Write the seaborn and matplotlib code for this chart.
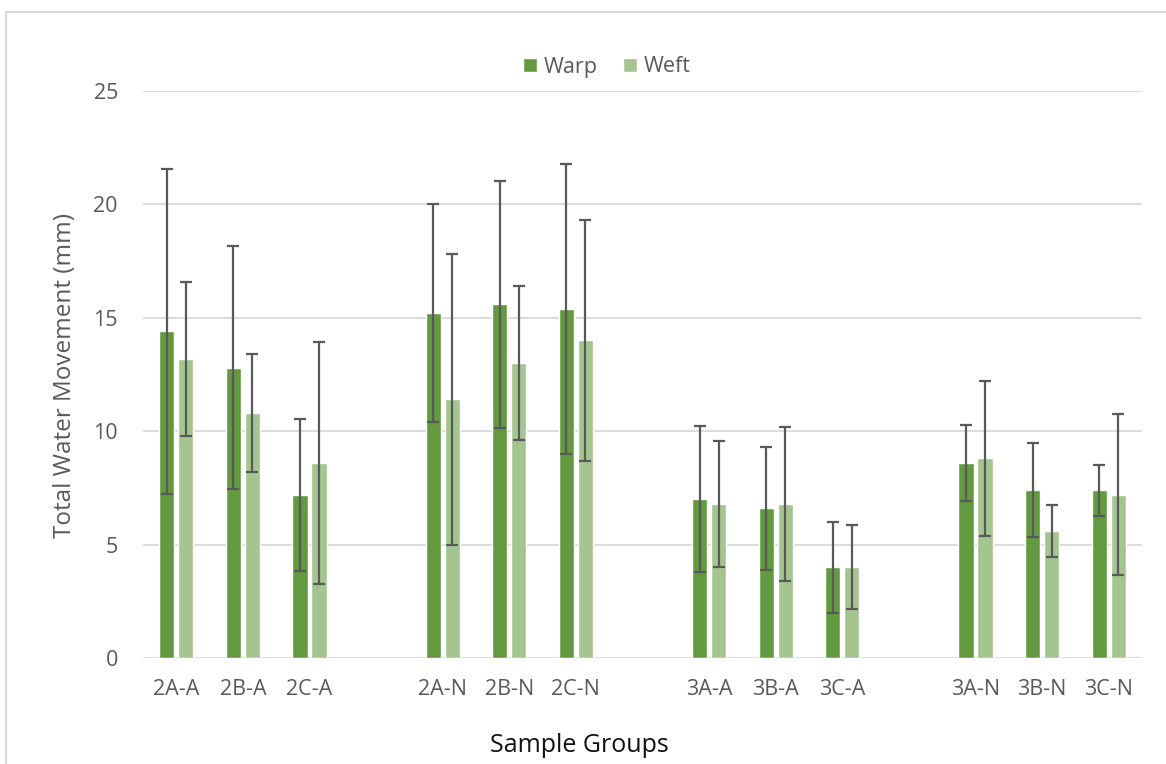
import matplotlib
matplotlib.use("Agg")
import matplotlib.pyplot as plt
import matplotlib.patches as mpatches
import pandas as pd
import seaborn as sns

# Sample groups and their measurements (mean and +/- spread)
groups = ["2A-A", "2B-A", "2C-A", "2A-N", "2B-N", "2C-N",
          "3A-A", "3B-A", "3C-A", "3A-N", "3B-N", "3C-N"]
warp_mean = [14.4, 12.8, 7.2, 15.2, 15.6, 15.4, 7.0, 6.6, 4.0, 8.6, 7.4, 7.4]
weft_mean = [13.2, 10.8, 8.6, 11.4, 13.0, 14.0, 6.8, 6.8, 4.0, 8.8, 5.6, 7.2]
warp_err = [7.15, 5.35, 3.35, 4.8, 5.45, 6.4, 3.23, 2.7, 2.0, 1.67, 2.06, 1.13]
weft_err = [3.4, 2.6, 5.35, 6.4, 3.4, 5.3, 2.77, 3.4, 1.85, 3.4, 1.15, 3.55]

# Category order with empty slots separating the four sets
order = ["2A-A", "2B-A", "2C-A", " ",
         "2A-N", "2B-N", "2C-N", "  ",
         "3A-A", "3B-A", "3C-A", "   ",
         "3A-N", "3B-N", "3C-N"]

df = pd.DataFrame({
    "group": groups * 2,
    "direction": ["Warp"] * len(groups) + ["Weft"] * len(groups),
    "value": warp_mean + weft_mean,
    "err": warp_err + weft_err,
})

sns.set_style("white")
plt.rcParams["font.family"] = ["Open Sans", "DejaVu Sans"]

W, H = 1166, 764
fig = plt.figure(figsize=(W / 100, H / 100), dpi=100)
ax = fig.add_axes([143 / W, 1 - 658 / H, (1142 - 143) / W, (658 - 91) / H])

palette = {"Warp": "#639A3F", "Weft": "#A4C58F"}
sns.barplot(data=df, x="group", y="value", hue="direction", order=order,
            hue_order=["Warp", "Weft"], palette=palette, width=0.57, gap=0.2,
            saturation=1, errorbar=None, ax=ax, zorder=2)

# Error bars at each bar's centre
lookup = {(g, d): e for g, d, e in zip(df["group"], df["direction"], df["err"])}
for container, d in zip(ax.containers, ["Warp", "Weft"]):
    for bar in container:
        h = bar.get_height()
        if pd.isna(h) or h == 0:
            continue
        xc = bar.get_x() + bar.get_width() / 2
        g = order[int(round(xc))]
        e = lookup.get((g, d))
        if e is None:
            continue
        ax.errorbar(xc, h, yerr=e, fmt="none", ecolor="#595959",
                    elinewidth=1.6, capsize=4.6, capthick=1.6, zorder=3)

ax.set_ylim(0, 25)
ax.set_xlim(-0.5, len(order) - 0.5)
ax.set_yticks([0, 5, 10, 15, 20, 25])
ax.yaxis.grid(True, color="#D9D9D9", linewidth=1.3, zorder=0)
ax.xaxis.grid(False)
for s in ax.spines.values():
    s.set_visible(False)
ax.tick_params(axis="both", length=0, labelsize=15.5, labelcolor="#595959")
ax.tick_params(axis="x", pad=15)
ax.tick_params(axis="y", pad=18)

ax.set_xlabel("Sample Groups", fontsize=18, color="#111111")
ax.xaxis.set_label_coords(0.437, (658 - 733) / (658 - 91))
ax.set_ylabel("Total Water Movement (mm)", fontsize=17.5, color="#595959")
ax.yaxis.set_label_coords((77 - 143) / (1142 - 143), (658 - 375) / (658 - 91))

sns.move_legend(ax, "center", bbox_to_anchor=((607 - 143) / 999, (658 - 67) / 567),
                ncol=2, frameon=False, title=None, fontsize=15.5,
                handlelength=0.65, handleheight=0.65, handletextpad=0.3,
                columnspacing=1.2, labelcolor="#595959")

# Outer chart border (left and top edges)
fig.patches.append(mpatches.Rectangle((6 / W, -0.1), 1.2, 1 - 11.5 / H + 0.1,
                                      transform=fig.transFigure, fill=False,
                                      edgecolor="#D9D9D9", linewidth=1.5))

fig.savefig("out.png", dpi=100, facecolor="white")
